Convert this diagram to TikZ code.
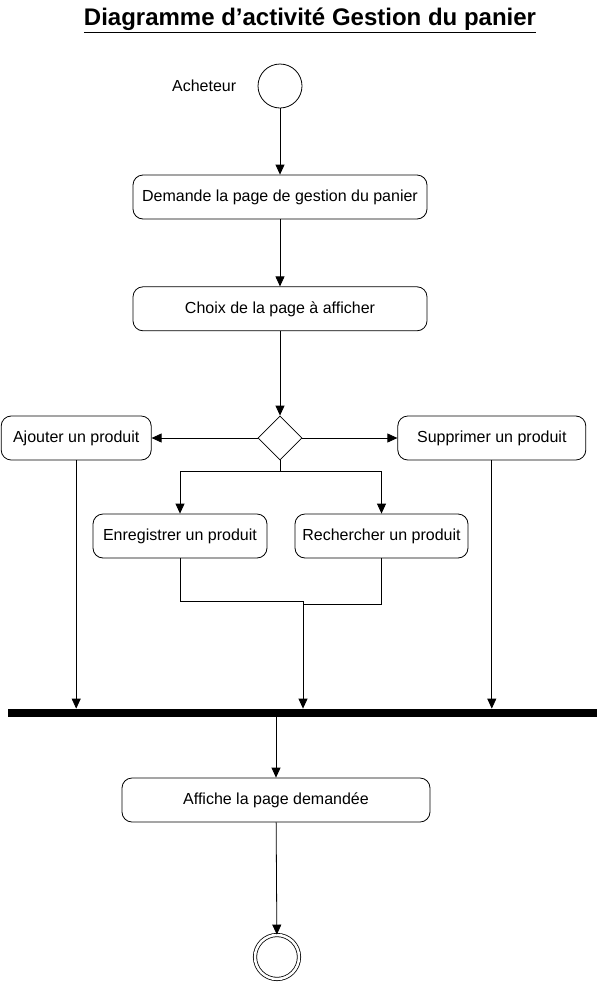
\documentclass[tikz,border=0pt]{standalone}
\usepackage{fontspec}
\setmainfont{Liberation Sans}
\usepackage{tikz}
\usetikzlibrary{positioning}
\usetikzlibrary{arrows.meta}
\usetikzlibrary{shapes,calc}
\tikzset{act node/.style={rectangle,rounded corners=10pt,draw,minimum height=44pt,inner sep=0pt,font=\fontsize{16}{19}\selectfont},
	start node/.style={circle,draw,minimum size=44pt,inner sep=0pt},
	end node/.style={circle,draw,double,double distance=2.5pt,minimum size=44pt,inner sep=0pt},
	choice node/.style={diamond,draw,minimum width=44pt,minimum height=44pt,inner sep=0pt},
	bar node/.style={rectangle,fill=black,minimum width=589pt,minimum height=8pt,inner sep=0pt},}

\begin{document}
\begin{tikzpicture}[x=1pt, y=-1pt, >={Triangle[length=10pt,width=9pt]}, line width=0.8pt]
	\useasboundingbox (0,0) rectangle (598,983);
	\node[font=\bfseries\fontsize{24}{28}\selectfont] (title) at (310,20) {\underline{Diagramme d’activité Gestion du panier}};

	\node[start node] (start) at (280,86) {};
	\node[inner sep=0pt, font=\fontsize{16}{19}\selectfont] (acheteur) [left = 21pt of start] {Acheteur};
	\node[act node, minimum width=294pt] (demande) at (280,197) {Demande la page de gestion du panier};
	\node[act node, minimum width=294pt] (choix) [below = 67pt of demande] {Choix de la page à afficher};
	\node[choice node] (dec) at (280,438) {};
	\node[act node, minimum width=150pt] (ajouter) [left = 106pt of dec] {Ajouter un produit};
	\node[act node, minimum width=188pt] (supprimer) [right = 95pt of dec] {Supprimer un produit};
	\node[act node, minimum width=174pt] (enreg) at (180,536) {Enregistrer un produit};
	\node[act node, minimum width=173pt] (recher) at (381.5,536) {Rechercher un produit};
	\node[bar node] (join) at (302.5,713) {};
	\node[act node, minimum width=308pt] (affiche) at (276,800) {Affiche la page demandée};
	\node[end node] (fin) at (277,957) {};

	\coordinate (split) at (280,471);
	\coordinate (merge) at (303,601);
	\coordinate (merge2) at (303,604);

	% flot principal
	\draw[->] (start) -- (demande);
	\draw[->] (demande) -- (choix);
	\draw[->] (choix) -- (dec);
	\draw[->] (dec) -- (ajouter);
	\draw[->] (dec) -- (supprimer);
	\draw (dec.south) -- (split);
	\draw[->] (split) -| (enreg);
	\draw[->] (split) -| (recher);
	% jointure
	\draw (enreg) |- (merge);
	\draw (recher) |- (merge2);
	\draw[->] (merge) -- (merge |- join.north);
	\draw[->] (ajouter) -- (ajouter |- join.north);
	\draw[->] (supprimer) -- (supprimer |- join.north);
	\draw[->] (join.south -| affiche.north) -- (affiche);
	\draw[->] (affiche) -- (fin);
\end{tikzpicture}
\end{document}
